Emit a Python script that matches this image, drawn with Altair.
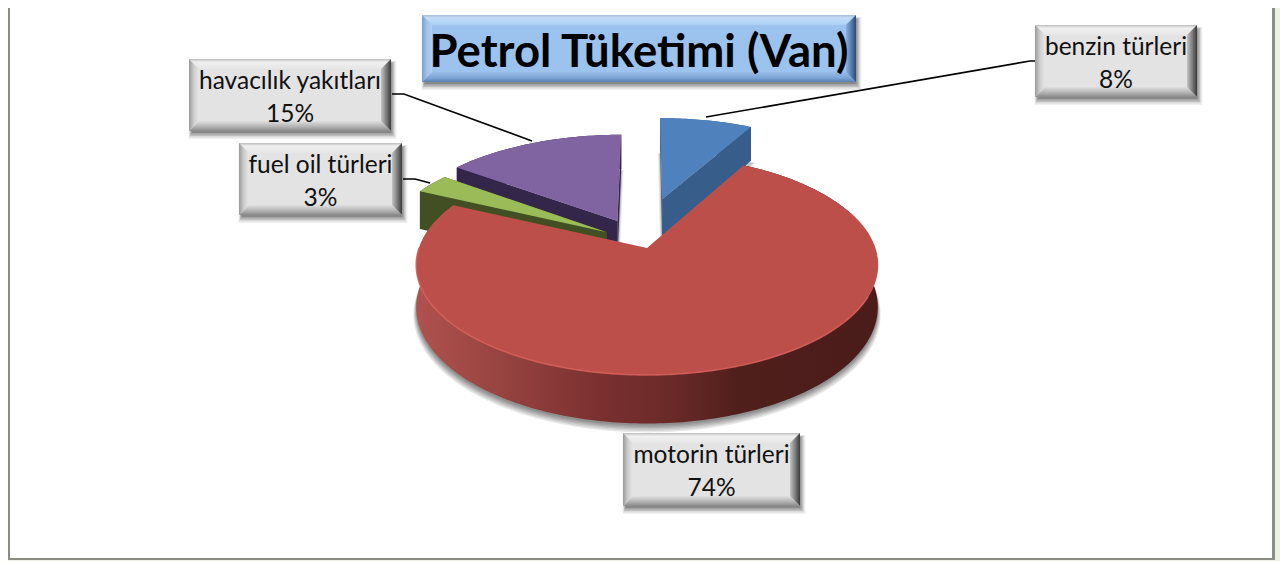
import math
import altair as alt

# ---- data ----
categories = ["benzin türleri", "motorin türleri", "fuel oil türleri", "havacılık yakıtları"]
values = [8, 74, 3, 15]
title_text = "Petrol Tüketimi (Van)"

# ---- style / layout ----
W, H_PAGE = 1280, 561
OX, OY = 8, 8
CX, CY, RX, RY, K, DEPTH = 647, 248, 228, 107.3, 0.155, 41
EXPLODE = [(0.071, 0.49), (0, 0), (-0.18, 0.15), (-0.135, 0.262)]
TOP = ["#4f81bd", "#bd4f4b", "#9bbb59", "#8064a2"]
WALL = ["#375d8a", "#5a2422", "#414f22", "#33264a"]
BOXES = [(1035, 25, 1197, 97), (623, 433, 800, 506), (239, 143, 402, 215), (189, 59, 391, 131)]
TITLE_BOX = (422, 15, 856, 82)
BEVEL = 10
LEADERS = [
    [(1036, 61), (1030, 61), (706, 117)],
    [(403, 179), (415, 179), (430, 183)],
    [(392, 94), (404, 94), (532, 141)],
]
FONT = "Lato"


def proj(u, v, z=0.0):
    den = 1 + K * v
    return [CX + RX * u / den, CY - RY * v / den + DEPTH * z / den]


def arc(a0, a1, ex, z=0.0, r=1.0):
    n = max(2, int(abs(a1 - a0)) + 1)
    out = []
    for i in range(n + 1):
        t = math.radians(a0 + (a1 - a0) * i / n)
        out.append(proj(ex[0] + r * math.sin(t), ex[1] + r * math.cos(t), z))
    return out


def feat(rings_or_line, color=None, line=False):
    g = {"type": "LineString", "coordinates": rings_or_line} if line else {
        "type": "Polygon", "coordinates": [rings_or_line + [rings_or_line[0]]]}
    return {"type": "Feature", "geometry": g, "properties": {}, "c": color}


def rect(b, e=0.0, dx=0.0, dy=0.0):
    x0, y0, x1, y1 = b
    return [[x0 - e + dx, y0 - e + dy], [x1 + e + dx, y0 - e + dy], [x1 + e + dx, y1 + e + dy], [x0 - e + dx, y1 + e + dy]]


def shapes(feats, **mark):
    mark.setdefault("strokeWidth", 0)
    mark.setdefault("stroke", "transparent")
    return alt.Chart(alt.Data(values=feats)).mark_geoshape(**mark).project(
        type="identity", scale=1, translate=[-OX, -OY])


def colored(feats, **mark):
    mark.setdefault("strokeWidth", 0)
    return alt.Chart(alt.Data(values=feats)).mark_geoshape(**mark).encode(
        fill=alt.Fill("c:N", scale=None)).project(type="identity", scale=1, translate=[-OX, -OY])


def grad(stops, horizontal):
    return alt.Gradient(
        gradient="linear",
        stops=[alt.GradientStop(color=c, offset=o) for o, c in stops],
        x1=0, x2=1 if horizontal else 0, y1=0, y2=0 if horizontal else 1,
    )


layers = []

# page frame
layers.append(colored([
    feat(rect((0, 0, W, H_PAGE)), "#ecf2df"),
    feat(rect((OX, 0, 1275, 560)), "#8a8d84"),
    feat(rect((OX + 2, 0, 1272, 558)), "#ffffff"),
]))

# slice angles
angles, a = [], 0.0
total = sum(values)
for v in values:
    angles.append((a, a + 360.0 * v / total))
    a += 360.0 * v / total

# soft shadow below the pie
a0, a1 = angles[1]
ex1 = EXPLODE[1]
for r, dy in [(1.012, 7), (1.009, 6), (1.006, 5), (1.004, 4), (1.002, 3), (1.0, 2)]:
    poly = [proj(0, 0, 1)] + [[p[0], p[1] + dy] for p in arc(a0, a1, ex1, 1, r)]
    layers.append(shapes([feat(poly)], fill="#000000", opacity=0.09))

# shadows round the pulled-out slices
for i in (0, 3):
    a0, a1 = angles[i]
    ex = EXPLODE[i]
    poly = [proj(ex[0], ex[1], 0)] + arc(a0, a1, ex)
    poly2 = [proj(ex[0], ex[1], 1)] + arc(a0, a1, ex, 1)
    for w, op in [(4, 0.10), (2, 0.14)]:
        layers.append(shapes([feat([[p[0], p[1] + 3] for p in poly2])],
                             fill="#000000", stroke="#000000", strokeWidth=w, opacity=op))

# slices, back to front
for i in (3, 2, 0):
    a0, a1 = angles[i]
    ex = EXPLODE[i]
    ap, apz = proj(ex[0], ex[1], 0), proj(ex[0], ex[1], 1)
    p0, p0z = arc(a0, a1, ex)[0], arc(a0, a1, ex, 1)[0]
    p1, p1z = arc(a0, a1, ex)[-1], arc(a0, a1, ex, 1)[-1]
    walls = [
        feat(arc(a0, a1, ex) + arc(a0, a1, ex, 1)[::-1], WALL[i]),
        feat([ap, p0, p0z, apz], WALL[i]),
        feat([ap, p1, p1z, apz], WALL[i]),
    ]
    top = feat([ap] + arc(a0, a1, ex), TOP[i])
    layers.append(colored(walls + [top]))

# big slice: shaded wall, flat top, light rim
a0, a1 = angles[1]
ex = EXPLODE[1]
wall_grad = grad([(0, "#b0524d"), (0.2, "#95423f"), (0.4, "#7a302f"), (0.55, "#6a2a28"), (0.7, "#4f1f1b"), (1, "#4a1c1a")], True)
layers.append(shapes([feat(arc(a0, a1, ex) + arc(a0, a1, ex, 1)[::-1])], fill=wall_grad))
layers.append(colored([feat([proj(0, 0, 0)] + arc(a0, a1, ex), TOP[1])]))
layers.append(shapes([feat(arc(115, a1 - 25, ex), line=True)], filled=False, stroke="#d8605a", strokeWidth=1.6, opacity=0.85))
layers.append(shapes([feat(arc(70, 115, ex), line=True)], filled=False, stroke="#cf5a55", strokeWidth=1.2, opacity=0.5))

# leader lines
layers.append(shapes([feat([list(p) for p in l], line=True) for l in LEADERS],
                     filled=False, stroke="#000000", strokeWidth=1.6))


def bevel_layers(boxes, centre, top, left, bottom, right):
    out = []
    for e, op in [(4, 0.06), (3, 0.09), (2, 0.12), (1, 0.14), (0, 0.16)]:
        out.append(shapes([feat(rect(b, e - 1, 1.5 + e / 4, 3 + e / 2)) for b in boxes], fill="#000000", opacity=op))
    out.append(shapes([feat(rect(b)) for b in boxes], fill=centre))

    def tr(b, side):
        x0, y0, x1, y1 = b
        B = BEVEL
        return {
            "t": [[x0, y0], [x1, y0], [x1 - B, y0 + B], [x0 + B, y0 + B]],
            "b": [[x0, y1], [x1, y1], [x1 - B, y1 - B], [x0 + B, y1 - B]],
            "l": [[x0, y0], [x0 + B, y0 + B], [x0 + B, y1 - B], [x0, y1]],
            "r": [[x1, y0], [x1 - B, y0 + B], [x1 - B, y1 - B], [x1, y1]],
        }[side]
    out.append(shapes([feat(tr(b, "t")) for b in boxes], fill=grad(top, False)))
    out.append(shapes([feat(tr(b, "b")) for b in boxes], fill=grad(bottom, False)))
    out.append(shapes([feat(tr(b, "l")) for b in boxes], fill=grad(left, True)))
    out.append(shapes([feat(tr(b, "r")) for b in boxes], fill=grad(right, True)))
    return out


layers += bevel_layers(
    BOXES, "#e3e3e3",
    top=[(0, "#bdbdbd"), (0.3, "#f0f0f0"), (1, "#e6e6e6")],
    left=[(0, "#9a9a9a"), (0.5, "#cfcfcf"), (1, "#e6e6e6")],
    bottom=[(0, "#e0e0e0"), (0.6, "#b0b0b0"), (1, "#8a8a8a")],
    right=[(0, "#c4c4c4"), (0.5, "#808080"), (1, "#3a3a3a")],
)
layers += bevel_layers(
    [TITLE_BOX], "#9cc2ee",
    top=[(0, "#a8c0dc"), (0.3, "#c4dcf6"), (1, "#acd0f4")],
    left=[(0, "#7b9fcf"), (0.5, "#a0c4ee"), (1, "#b0d0f4")],
    bottom=[(0, "#98bce8"), (0.6, "#7ca4d4"), (1, "#5a80b0")],
    right=[(0, "#8cb0de"), (0.5, "#5a80b0"), (1, "#2e4a70")],
)

# text
xs = alt.Scale(domain=[OX, W], range=[0, W - OX])
ys = alt.Scale(domain=[OY, H_PAGE], range=[0, H_PAGE - OY])
label_rows = []
for name, v, b in zip(categories, values, BOXES):
    cx = (b[0] + b[2]) / 2
    label_rows.append({"x": cx, "y": b[1] + 23, "t": name})
    label_rows.append({"x": cx, "y": b[1] + 56, "t": f"{v}%"})
layers.append(alt.Chart(alt.Data(values=label_rows)).mark_text(
    font=FONT, fontSize=24.5, color="#111111", align="center", baseline="middle").encode(
    x=alt.X("x:Q", scale=xs, axis=None), y=alt.Y("y:Q", scale=ys, axis=None), text="t:N"))
layers.append(alt.Chart(alt.Data(values=[{"x": (TITLE_BOX[0] + TITLE_BOX[2]) / 2, "y": 53, "t": title_text}])).mark_text(
    font=FONT, fontSize=45.5, fontWeight="bold", color="#000000", align="center", baseline="middle").encode(
    x=alt.X("x:Q", scale=xs, axis=None), y=alt.Y("y:Q", scale=ys, axis=None), text="t:N"))

chart = alt.layer(*layers).properties(
    width=W - OX, height=H_PAGE - OY, padding=0,
    autosize=alt.AutoSizeParams(type="none"),
).configure_view(stroke=None)
chart.save("out.html", embed_options={"renderer": "svg", "actions": False})
